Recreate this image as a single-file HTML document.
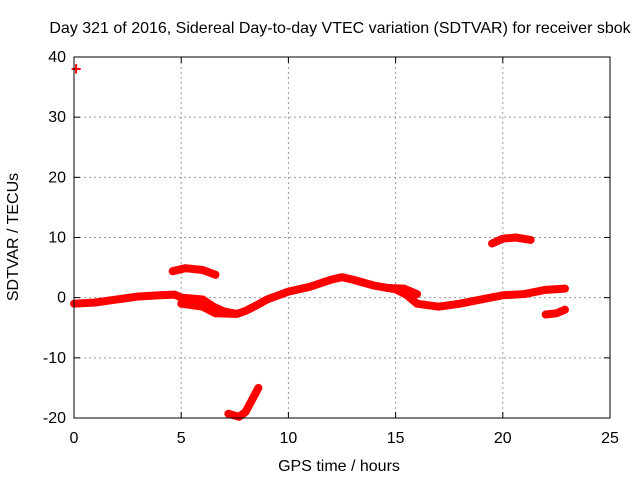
<!DOCTYPE html>
<html><head><meta charset="utf-8"><style>
body{margin:0;background:#fff}
svg text{font-family:"Liberation Sans",sans-serif;font-size:16px;fill:#000}
</style></head><body>
<svg id="c" width="640" height="480">
<rect width="640" height="480" fill="#fff"/>
<text x="340" y="33" text-anchor="middle">Day 321 of 2016, Sidereal Day-to-day VTEC variation (SDTVAR) for receiver sbok</text>
<text x="339" y="471" text-anchor="middle">GPS time / hours</text>
<text transform="translate(18,237) rotate(-90)" text-anchor="middle">SDTVAR / TECUs</text>
<g id="grid"></g><g id="marks"></g>
<rect x="74" y="57" width="536" height="361" fill="none" stroke="#000"/>
</svg>
<script>
const xTicks=[0,5,10,15,20,25];
const yTicks=[-20,-10,0,10,20,30,40];
const mainTrack=[[0,-1],[1,-0.8],[2,-0.3],[3,0.2],[4,0.4],[4.7,0.5],[5,0],[6,-0.3],[6.5,-1.5],[7,-2.3],[7.6,-2.7],[8,-2.2],[8.5,-1.3],[9,-0.3],[10,1],[11,1.8],[12,3],[12.5,3.4],[13,3],[14,2],[15,1.4],[15.5,0.5],[16,-1],[17,-1.5],[18,-1],[19,-0.3],[20,0.4],[21,0.6],[22,1.3],[22.9,1.5]];
const branchA=[[5,-1],[6,-1.5],[6.6,-2.6],[7.5,-2.7]];
const branchB=[[14.6,1.6],[15.4,1.5],[16,0.6]];
const arc1=[[4.6,4.4],[5.2,4.9],[6,4.6],[6.6,3.8]];
const arc2=[[19.5,9],[20,9.8],[20.6,10],[21.3,9.6]];
const hook=[[7.2,-19.3],[7.7,-19.8],[8.0,-19],[8.3,-17],[8.6,-15]];
const lowPiece=[[22,-2.8],[22.5,-2.6],[22.9,-2]];
const outlier=[[0.1,38]];
const NS='http://www.w3.org/2000/svg';
const X=v=>74+v/25*536, Y=v=>418-(v+20)/60*361;
const g=document.getElementById('grid'),m=document.getElementById('marks');
function mk(t,a,p){const e=document.createElementNS(NS,t);for(const k in a)e.setAttribute(k,a[k]);p.appendChild(e);return e;}
xTicks.forEach(t=>{
 if(t>0&&t<25){const l=mk('line',{x1:X(t),x2:X(t),y1:57,y2:418,stroke:'#999','stroke-dasharray':'2,3'},g);
 
 }
 const tx=mk('text',{x:X(t),y:443,'text-anchor':'middle'},g);tx.textContent=t;
 
 
 mk('line',{x1:X(t),x2:X(t),y1:418,y2:412,stroke:'#000'},g);mk('line',{x1:X(t),x2:X(t),y1:57,y2:63,stroke:'#000'},g);
});
yTicks.forEach(t=>{
 if(t>-20&&t<40){const l=mk('line',{x1:74,x2:610,y1:Y(t),y2:Y(t),stroke:'#999','stroke-dasharray':'2,3'},g);
 
 }
 const tx=mk('text',{x:66,y:Y(t)+5,'text-anchor':'end'},g);tx.textContent=t;
 
 
 mk('line',{x1:74,x2:80,y1:Y(t),y2:Y(t),stroke:'#000'},g);mk('line',{x1:610,x2:604,y1:Y(t),y2:Y(t),stroke:'#000'},g);
});
const series={'main-track':mainTrack,'branch-a':branchA,'branch-b':branchB,'arc-1':arc1,'arc-2':arc2,'hook':hook,'low-piece':lowPiece};
for(const n in series){
 const p=mk('polyline',{points:series[n].map(d=>X(d[0])+','+Y(d[1])).join(' '),fill:'none',stroke:'#f00','stroke-width':8,'stroke-linejoin':'round','stroke-linecap':'round'},m);
 
 
}
outlier.forEach(d=>{const c=mk('text',{x:X(d[0]),y:Y(d[1])+6,'text-anchor':'middle','font-weight':'bold'},m);c.textContent='+';c.style.fill='#f00';c.style.fontSize='18px';
 
 });
</script>
</body></html>
